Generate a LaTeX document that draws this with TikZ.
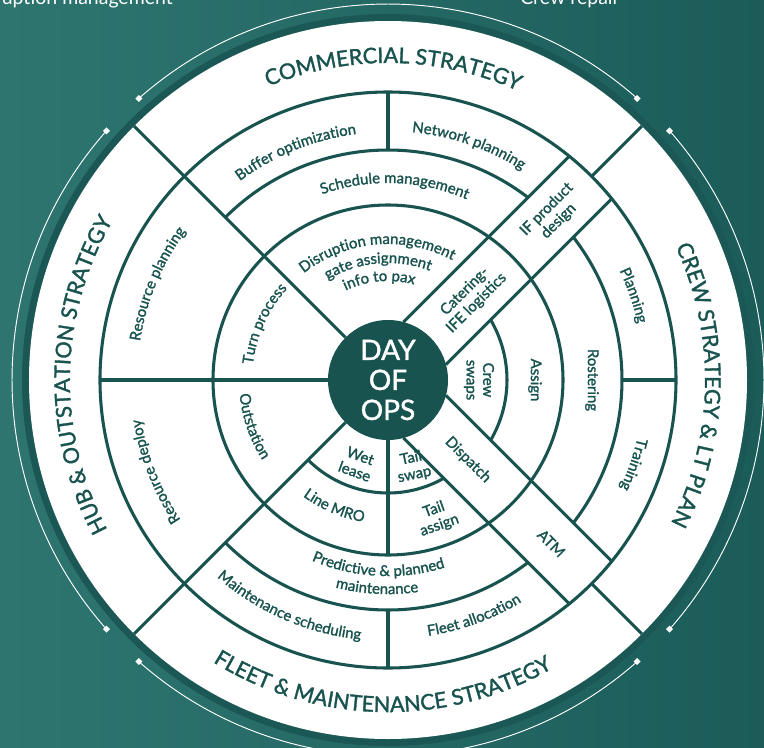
\documentclass[tikz,border=0pt]{standalone}
\usepackage{fontspec}
\setmainfont{Lato}[FakeBold=1.5]
\newfontfamily\capsfont{Lato}[FakeBold=1.5]
\newfontfamily\thinfont{Lato}
\usetikzlibrary{calc,positioning,decorations.text}
\definecolor{wheel}{HTML}{18534F}
\definecolor{bgleft}{HTML}{2E7570}
\definecolor{bgmid}{HTML}{246B67}
\definecolor{bgright}{HTML}{1B5C59}
\definecolor{rim}{HTML}{1B5754}
\newcommand\lblfont{\fontsize{11.2}{12.5}\selectfont}
\newcommand\stratfont{\capsfont\fontsize{16.2}{18}\selectfont}
% text on an arc, letters facing out / facing in
\newcommand\cwtext[4][\lblfont]{%
  \path[decorate,decoration={text along path,text align=center,text color=wheel,text={|#1|#4}}]
    (#3+70:#2) arc[start angle=#3+70,end angle=#3-70,radius=#2];}
\newcommand\ccwtext[4][\lblfont]{%
  \path[decorate,decoration={text along path,text align=center,text color=wheel,text={|#1|#4}}]
    (#3-70:#2) arc[start angle=#3-70,end angle=#3+70,radius=#2];}

\begin{document}
\begin{tikzpicture}[x=0.75pt,y=0.75pt,
  spoke/.style={draw=wheel,line width=2.3pt},
  lbl/.style={text=wheel,font=\lblfont,align=center,inner sep=0pt},
  ghost/.style={text=white,font=\thinfont\fontsize{14.6}{16}\selectfont,inner sep=0pt}]
\clip (-388,-367) rectangle (376,380);
\shade[left color=bgleft,middle color=bgmid,right color=bgright] (-388,-367) rectangle (376,380);

\node (prevleft) [ghost,anchor=base east] at (-215,375) {uption management};
\node (prevright) [ghost,anchor=base west] at (132,375) {Crew repair};

\fill[rim] (0,0) circle (366);
\fill[white] (0,0) circle (359);
\foreach \a in {0,90,180,270} {
  \draw[white,line width=0.7pt] (\a-41.5:376) arc[start angle=\a-41.5,end angle=\a+41.5,radius=376];
  \foreach \e in {-41.5,41.5}
    \fill[white] (\a+\e:376) ++(-3.5,0) -- ++(3.5,3.5) -- ++(3.5,-3.5) -- ++(-3.5,-3.5) -- cycle;
}

\draw[spoke] (0,0) circle (175);
\draw[spoke] (0,0) circle (288);
\draw[spoke] (52.5:230) arc[start angle=52.5,end angle=135,radius=230];
\draw[spoke] (225:230) arc[start angle=225,end angle=307.5,radius=230];
\draw[spoke] (-37.6:234) arc[start angle=-37.6,end angle=37.6,radius=234];
\draw[spoke] (-30.4:119) arc[start angle=-30.4,end angle=30.4,radius=119];
\draw[spoke] (225:113) arc[start angle=225,end angle=299.6,radius=113];
\draw[spoke] (135:60) -- (135:359);
\draw[spoke] (225:60) -- (225:359);
\draw[spoke] (180:60) -- (180:288);
\draw[spoke] (0:234) -- (0:288);
\draw[spoke] (90:230) -- (90:288);
\draw[spoke] (270:60) -- (270:175);
\draw[spoke] (270:230) -- (270:288);
\draw[spoke] (45:288) -- (45:359);
\draw[spoke] (-45:288) -- (-45:359);
\foreach \a in {45,-45}
  \foreach \d in {30,-30}
    \draw[spoke,rotate=\a] (51.96,\d) -- (286.4,\d);

\fill[wheel] (0,0) circle (60);
\node (dayofops) [text=white,align=center,font=\fontsize{21}{22.5}\selectfont] at (0,0) {DAY\\OF\\OPS};

\cwtext[\stratfont]{317}{89}{COMMERCIAL STRATEGY}
\cwtext[\stratfont]{318}{179}{HUB {\&} OUTSTATION STRATEGY}
\cwtext[\stratfont]{317}{-1}{CREW STRATEGY {\&} LT PLAN}
\ccwtext[\stratfont]{332}{269}{FLEET {\&} MAINTENANCE STRATEGY}

\cwtext{248}{112}{Buffer optimization}
\cwtext{249}{71}{Network planning}
\cwtext{197}{88}{Schedule management}
\cwtext{136}{95}{Disruption management}
\cwtext{117}{95}{gate assignment}
\cwtext{99}{95}{info to pax}
\cwtext{136}{155.6}{Turn process}
\cwtext{251}{157.4}{Resource planning}
\cwtext{250}{201.5}{Resource deploy}
\cwtext{256}{19}{Planning}
\cwtext{256}{-19}{Training}
\ccwtext{149}{199}{Outstation}
\ccwtext{144}{247}{Line MRO}
\ccwtext{261}{246.5}{Maintenance scheduling}
\ccwtext{259}{290}{Fleet allocation}
\ccwtext{196}{267}{Predictive {\&} planned}
\ccwtext{214}{267}{maintenance}

\node (catering) [lbl,rotate=45] at (45:117) {Catering-\\IFE logistics};
\node (ifdesign) [lbl,rotate=45] at (45:233) {IF product\\design};
\node (dispatch) [lbl,rotate=-45] at (-45:113) {Dispatch};
\node (atm) [lbl,rotate=-45] at (-45:231) {ATM};
\node (crewswaps) [lbl,rotate=-90] at (0:91) {Crew\\swaps};
\node (assign) [lbl,rotate=-90] at (0:147) {Assign};
\node (rostering) [lbl,rotate=-90] at (0:204) {Rostering};
\node (wetlease) [lbl,rotate=-20] at (250:89) {Wet\\lease};
\node (tailswap) [lbl,rotate=12] at (286:90) {Tail\\swap};
\node (tailassign) [lbl,rotate=19.5] at (289.5:146) {Tail\\assign};
\end{tikzpicture}
\end{document}
